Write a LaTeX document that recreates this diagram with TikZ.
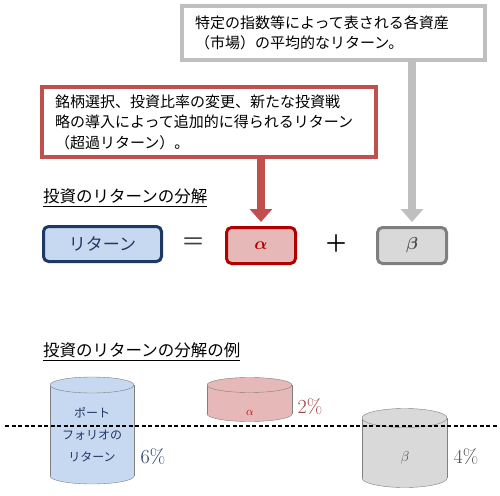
\documentclass[tikz,border=0pt]{standalone}
\usepackage{amsmath,bm}
\usepackage{fontspec}
\newfontfamily\jp{Noto Sans CJK JP}
\usetikzlibrary{arrows.meta,positioning}
\definecolor{noteRed}{HTML}{C0504D}
\definecolor{noteGray}{HTML}{BFBFBF}
\definecolor{navy}{HTML}{1F3864}
\definecolor{paleBlue}{HTML}{C6D9F1}
\definecolor{deepRed}{HTML}{B00000}
\definecolor{paleRed}{HTML}{E6B9B8}
\definecolor{paleGray}{HTML}{D9D9D9}
\definecolor{midGray}{HTML}{7F7F7F}

% cylinder: centre x, top y, bottom y, x radius, y radius, fill
\newcommand\drawcyl[6]{%
  \filldraw[fill=#6, draw=midGray] (#1,#3) ellipse (#4 and #5);
  \fill[#6] (#1-#4,#2) rectangle (#1+#4,#3);
  \draw[midGray] (#1-#4,#2) -- (#1-#4,#3) (#1+#4,#2) -- (#1+#4,#3);
  \filldraw[fill=#6, draw=midGray] (#1,#2) ellipse (#4 and #5);
}

\begin{document}
\begin{tikzpicture}[x=1pt,y=-1pt,
  notebox/.style={draw, line width=4pt, fill=white, align=left, inner xsep=13pt,
    inner ysep=0pt, font=\jp\fontsize{15}{20.5}\selectfont},
  termbox/.style={draw, line width=3pt, rounded corners=5pt, inner sep=0pt,
    minimum height=35pt, font=\fontsize{19}{22}\selectfont},
  feed/.style={line width=8pt, -{Triangle[width=22pt,length=13pt]}, shorten >=4pt},
  heading/.style={anchor=west, inner sep=0pt, font=\jp\fontsize{16.5}{20}\selectfont},
  pct/.style={font=\fontsize{20}{24}\selectfont},
]
\useasboundingbox (0,0) rectangle (500,495);

% notes
\node[notebox, draw=noteGray, text width=277pt, minimum height=54pt]
  (marketnote) at (333.5,33) {特定の指数等によって表される各資産\\（市場）の平均的なリターン。};
\node[notebox, draw=noteRed, text width=308pt, minimum height=70pt]
  (excessnote) at (209,122) {銘柄選択、投資比率の変更、新たな投資戦\\略の導入によって追加的に得られるリターン\\（超過リターン）。};

% decomposition
\node[heading] (title) at (43,198) {\underline{投資のリターンの分解}};
\node[termbox, draw=navy, fill=paleBlue, minimum width=118pt, text=navy]
  (ret) at (102.5,244) {\jp\fontsize{17}{20}\selectfont リターン};
\node[text=black!75, font=\jp\fontsize{24}{24}\selectfont] (eq) at (193,244) {＝};
\node[termbox, draw=deepRed, fill=paleRed, minimum width=69pt, minimum height=36pt, text=deepRed]
  (alpha) at (261,245.5) {$\bm{\alpha}$};
\node[font=\jp\fontsize{24}{24}\selectfont] (plus) at (336,244) {＋};
\node[termbox, draw=midGray, fill=paleGray, minimum width=69pt, minimum height=36pt, text=black!70]
  (beta) at (412,245.5) {$\bm{\beta}$};

\draw[feed, noteRed] (excessnote.south -| alpha.north) -- (alpha.north);
\draw[feed, noteGray] (marketnote.south -| beta.north) -- (beta.north);

% example
\node[heading] (extitle) at (43,352) {\underline{投資のリターンの分解の例}};
\drawcyl{92}{385}{476}{42}{8}{paleBlue}
\drawcyl{249.5}{385}{414}{42.5}{7.5}{paleRed}
\drawcyl{404.5}{418}{478}{42.5}{9.5}{paleGray}

\node[align=center, text=navy, font=\jp\fontsize{12}{22}\selectfont]
  (portlab) at (92,435) {ポート\\フォリオの\\リターン};
\node[pct, text=navy] (six) at (153,457) {6\%};
\node[text=deepRed, font=\fontsize{13}{15}\selectfont] (alab) at (250,413) {$\alpha$};
\node[pct, text=noteRed!80!black] (two) at (310,407) {2\%};
\node[text=black!70, font=\fontsize{15}{17}\selectfont] (blab) at (405,458) {$\beta$};
\node[pct, text=black!70] (four) at (466,457) {4\%};

\draw[line width=1.1pt, dash pattern=on 4pt off 2.5pt] (5,426) -- (497,426);
\end{tikzpicture}
\end{document}
